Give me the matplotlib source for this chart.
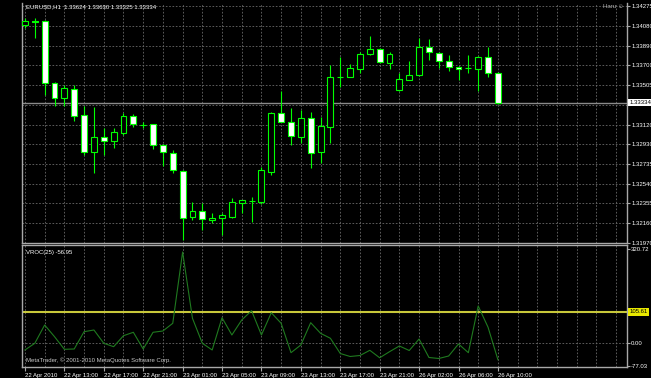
import matplotlib
matplotlib.use("Agg")
import matplotlib.pyplot as plt
import matplotlib.transforms as mtransforms
from matplotlib.patches import Rectangle
import numpy as np

# ---------------- data ----------------
header_text = "EURUSD,H1  1.33624 1.33630 1.33325 1.33334"
indicator_text = "VROC(25) -56.95"
copyright_text = "MetaTrader, \u00a9 2001-2010 MetaQuotes Software Corp."

opens = [1.34090, 1.34129, 1.34129, 1.33526, 1.33380, 1.33468, 1.33215, 1.32855,
         1.33001, 1.32962, 1.33040, 1.33205, 1.33118, 1.33127, 1.32923, 1.32845,
         1.32670, 1.32223, 1.32281, 1.32194, 1.32213, 1.32223, 1.32359, 1.32378,
         1.32369, 1.32660, 1.33234, 1.33147, 1.33001, 1.33186, 1.32855, 1.33098,
         1.33584, 1.33584, 1.33662, 1.33808, 1.33857, 1.33721, 1.33458, 1.33555,
         1.33604, 1.33876, 1.33818, 1.33740, 1.33682, 1.33672, 1.33662, 1.33779,
         1.33624]
highs = [1.34158, 1.34158, 1.34139, 1.33536, 1.33507, 1.33507, 1.33302, 1.33293,
         1.33088, 1.33088, 1.33234, 1.33224, 1.33147, 1.33127, 1.32933, 1.32874,
         1.32680, 1.32369, 1.32359, 1.32262, 1.32262, 1.32408, 1.32388, 1.32417,
         1.32709, 1.33244, 1.33448, 1.33283, 1.33263, 1.33244, 1.33195, 1.33701,
         1.33779, 1.33711, 1.33828, 1.33983, 1.33867, 1.33828, 1.33623, 1.33740,
         1.33964, 1.33954, 1.33828, 1.33798, 1.33691, 1.33798, 1.33789, 1.33876,
         1.33630]
lows = [1.34061, 1.33964, 1.33409, 1.33302, 1.33302, 1.33156, 1.32826, 1.32651,
        1.32826, 1.32894, 1.33020, 1.33098, 1.33088, 1.32884, 1.32719, 1.32651,
        1.31999, 1.32194, 1.32097, 1.32165, 1.32048, 1.32213, 1.32262, 1.32174,
        1.32349, 1.32631, 1.33147, 1.32923, 1.32943, 1.32699, 1.32748, 1.32943,
        1.33487, 1.33584, 1.33623, 1.33798, 1.33721, 1.33662, 1.33448, 1.33555,
        1.33594, 1.33750, 1.33672, 1.33643, 1.33555, 1.33623, 1.33448, 1.33584,
        1.33325]
closes = [1.34129, 1.34124, 1.33526, 1.33380, 1.33477, 1.33205, 1.32855, 1.33001,
          1.32962, 1.33050, 1.33205, 1.33127, 1.33115, 1.32923, 1.32855, 1.32680,
          1.32213, 1.32281, 1.32203, 1.32213, 1.32242, 1.32369, 1.32388, 1.32375,
          1.32680, 1.33234, 1.33147, 1.33011, 1.33186, 1.32845, 1.33108, 1.33584,
          1.33580, 1.33672, 1.33808, 1.33857, 1.33730, 1.33808, 1.33565, 1.33604,
          1.33876, 1.33828, 1.33740, 1.33682, 1.33667, 1.33670, 1.33779, 1.33623,
          1.33334]
vroc = [-23.8, -1.0, 61.3, 21.5, -21.5, -20.4, 38.5, 44.3,
        -1.0, -12.6, 24.9, 36.5, -20.4, 36.5, 40.9, 67.1,
        310.0, 84.2, -1.0, -23.8, 86.2, 27.3, 78.4, 110.0,
        27.3, 103.2, 67.1, -33.0, -6.8, 69.2, 33.0, 16.0,
        -35.8, -46.0, -42.6, -24.9, -50.4, -29.6, -10.2, -25.6,
        13.6, -49.4, -52.8, -44.3, -3.4, -33.0, 126.1, 53.5,
        -56.95]
level_value = 105.61
last_price = 1.33334

price_ticks = [1.34275, 1.34080, 1.33890, 1.33700, 1.33505, 1.33315, 1.33120,
               1.32930, 1.32735, 1.32540, 1.32355, 1.32160, 1.31970]
price_tick_labels = ["1.34275", "1.34080", "1.33890", "1.33700", "1.33505", "",
                     "1.33120", "1.32930", "1.32735", "1.32540", "1.32355",
                     "1.32160", "1.31970"]
vroc_ticks = [320.72, 0.00, -77.03]
vroc_tick_labels = ["320.72", "0.00", "-77.03"]
time_labels = ["22 Apr 2010", "22 Apr 13:00", "22 Apr 17:00", "22 Apr 21:00",
               "23 Apr 01:00", "23 Apr 05:00", "23 Apr 09:00", "23 Apr 13:00",
               "23 Apr 17:00", "23 Apr 21:00", "26 Apr 02:00", "26 Apr 06:00",
               "26 Apr 10:00"]
label_step = 4
grid_step = 2

# ---------------- style ----------------
plt.rcParams['font.family'] = ['Liberation Sans', 'DejaVu Sans']
FS = 4.3
GREEN = '#00ff00'
GRID = '#6a6a6a'
SPINE = '#a8a8a8'
W, H = 672, 378

def box(x0, y0, x1, y1):
    return [x0 / W, 1 - y1 / H, (x1 - x0) / W, (y1 - y0) / H]

fig = plt.figure(figsize=(W / 100, H / 100), dpi=100, facecolor='black')
fig.patches.append(Rectangle((651 / W, 0), 1 - 651 / W, 1, transform=fig.transFigure,
                             facecolor='white', edgecolor='none', zorder=-1))

ax1 = fig.add_axes(box(22, 3, 627, 243))
ax2 = fig.add_axes(box(22, 245, 627, 367), sharex=ax1)

o = np.array(opens); h = np.array(highs); l = np.array(lows); c = np.array(closes)
x = np.arange(len(o))
up = c >= o

for ax in (ax1, ax2):
    ax.set_facecolor('black')
    for side in ('left', 'right', 'bottom', 'top'):
        ax.spines[side].set_color(SPINE)
        ax.spines[side].set_linewidth(1.0)
ax1.spines['top'].set_visible(False)

# candles
ax1.vlines(x, l, h, color=GREEN, linewidth=0.8, zorder=2)
body_bottom = np.minimum(o, c)
body_h = np.maximum(np.abs(c - o), 0.000008)
ax1.bar(x, body_h, bottom=body_bottom, width=0.6,
        color=np.where(up, 'black', 'white'), edgecolor=GREEN, linewidth=0.8, zorder=3)
ax1.axhline(last_price, color='#8a8a8a', linewidth=1.0, zorder=1.5)

n_slots = 61.1
ax1.set_xlim(-0.3, n_slots)
ax1.set_ylim(1.31970, 1.34304)

label_pos = np.arange(len(time_labels)) * label_step
ax1.set_xticks(label_pos)
ax1.set_xticks(np.arange(0, 62, grid_step), minor=True)
ax1.set_yticks(price_ticks)
ax1.set_yticklabels(price_tick_labels)
ax1.yaxis.tick_right()
ax1.tick_params(axis='x', which='both', length=0, labelbottom=False)
ax1.tick_params(axis='y', length=2, color=SPINE, labelcolor='white', labelsize=FS, pad=1)
ax1.grid(True, which='both', axis='x', color=GRID, linestyle=(0, (2, 2)), linewidth=0.6, zorder=0)
ax1.grid(True, which='major', axis='y', color=GRID, linestyle=(0, (2, 2)), linewidth=0.6, zorder=0)
ax1.set_axisbelow(True)

blend1 = mtransforms.blended_transform_factory(ax1.transAxes, ax1.transData)
ax1.text(1.004, last_price, f"{last_price:.5f}", transform=blend1, ha='left', va='center',
         fontsize=FS, color='black', clip_on=False,
         bbox=dict(boxstyle='square,pad=0.2', fc='white', ec='none'))

# indicator
ax2.plot(x, vroc, color='#1f7a1f', linewidth=0.8, zorder=3)
ax2.axhline(level_value, color='#c8c83a', linewidth=1.5, zorder=2)
ax2.axhline(0, color=GRID, linestyle=(0, (2, 2)), linewidth=0.6, zorder=0)
ax2.set_ylim(-81.8, 333.9)
ax2.set_yticks(vroc_ticks)
ax2.set_yticklabels(vroc_tick_labels)
ax2.yaxis.tick_right()
ax2.tick_params(axis='y', length=2, color=SPINE, labelcolor='white', labelsize=FS, pad=1)
ax2.set_xticks(label_pos)
ax2.set_xticklabels(time_labels)
ax2.set_xticks(np.arange(0, 62, grid_step), minor=True)
ax2.tick_params(axis='x', which='major', length=3, color=SPINE, labelcolor='white',
                labelsize=FS, pad=1, direction='out')
ax2.tick_params(axis='x', which='minor', length=0)
for lbl in ax2.get_xticklabels():
    lbl.set_horizontalalignment('left')
ax2.grid(True, which='both', axis='x', color=GRID, linestyle=(0, (2, 2)), linewidth=0.6, zorder=0)
ax2.set_axisbelow(True)

blend2 = mtransforms.blended_transform_factory(ax2.transAxes, ax2.transData)
ax2.text(1.004, level_value, f"{level_value:.2f}", transform=blend2, ha='left', va='center',
         fontsize=FS, color='black', clip_on=False,
         bbox=dict(boxstyle='square,pad=0.2', fc='#e8e800', ec='none'))

# texts
fig.text(26 / W, 1 - 6.5 / H, header_text, color='white', fontsize=FS, va='center', ha='left')
fig.text(26 / W, 1 - 252.5 / H, indicator_text, color='white', fontsize=FS, va='center', ha='left')
fig.text(26 / W, 1 - 360.5 / H, copyright_text, color='#c8c8c8', fontsize=FS, va='center', ha='left')
fig.text(624 / W, 1 - 6.5 / H, "Haru \u263a", color='#b0b0b0', fontsize=FS, va='center', ha='right')

fig.savefig("out.png", dpi=100, facecolor=fig.get_facecolor())
